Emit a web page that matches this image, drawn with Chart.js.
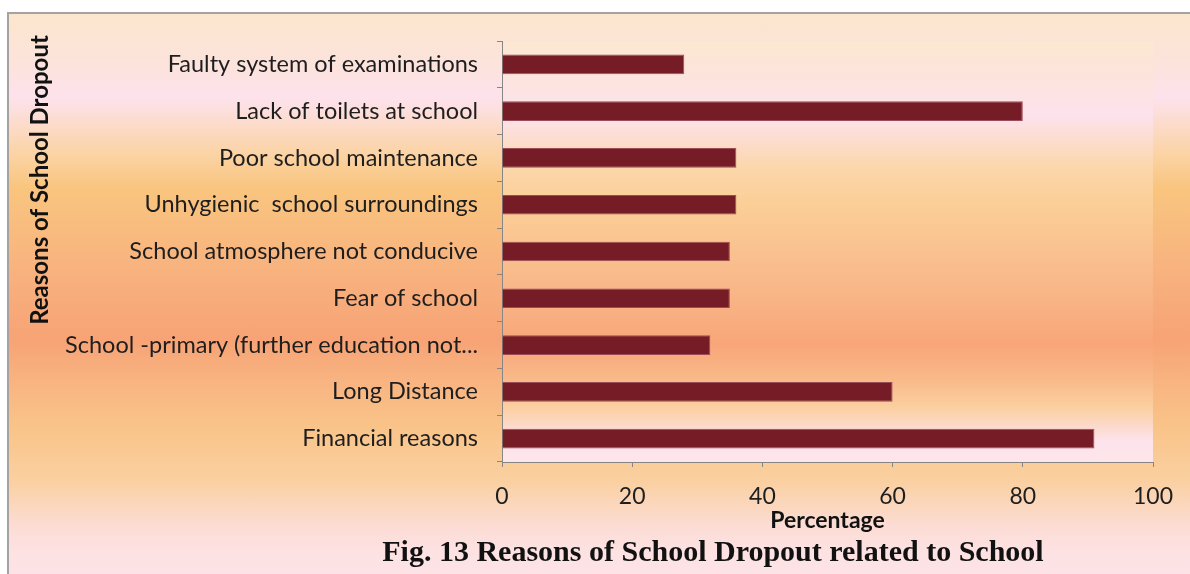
<!DOCTYPE html>
<html>
<head>
<meta charset="utf-8">
<script src="https://cdn.jsdelivr.net/npm/chart.js@4.4.1/dist/chart.umd.min.js"></script>
<style>
  html, body { margin: 0; padding: 0; background: #fff; }
  #frame {
    position: absolute; left: 7px; top: 12px; width: 1183px; height: 562px;
    border-left: 2px solid #a3a3a3; border-top: 2px solid #a3a3a3;
    background: linear-gradient(to bottom,
      #fbe6cd 0%, #fce3dc 9%, #fde2ec 15%, #fbd3a4 25%, #f9c57e 31%,
      #f8b37f 45%, #f7a375 58%, #f8b582 66%, #f9c388 73%, #fad0a0 83%,
      #fcdcd4 91%, #fde2e4 96%, #fde3e6 100%);
  }
  #chart { position: absolute; left: 0; top: 0; }
</style>
</head>
<body>
<div id="frame"></div>
<canvas id="chart" width="1190" height="574"></canvas>
<script>
// reasons, top to bottom
const reasons = [
  'Faulty system of examinations',
  'Lack of toilets at school',
  'Poor school maintenance',
  'Unhygienic  school surroundings',
  'School atmosphere not conducive',
  'Fear of school',
  'School -primary (further education not...',
  'Long Distance',
  'Financial reasons'
];
const percentages = [28, 80, 36, 36, 35, 35, 32, 60, 91];
const percentRange = [0, 100];
const percentStep = 20;

const yTitle = 'Reasons of School Dropout';
const xTitle = 'Percentage';
const caption = 'Fig. 13 Reasons of School Dropout related to School';

const AXIS_GREY = '#868686';
const TEXT = '#1e1e1e';

// plot area gets its own vertical wash
const plotBackground = {
  id: 'plotBackground',
  beforeDraw(chart) {
    const { ctx, chartArea: a } = chart;
    const g = ctx.createLinearGradient(0, a.top, 0, a.bottom);
    g.addColorStop(0, '#fce8d2');
    g.addColorStop(0.05, '#fce5d8');
    g.addColorStop(0.18, '#fde2ec');
    g.addColorStop(0.30, '#fbd7ab');
    g.addColorStop(0.38, '#fbcf98');
    g.addColorStop(0.57, '#f9b98a');
    g.addColorStop(0.72, '#f8a679');
    g.addColorStop(0.80, '#f9b888');
    g.addColorStop(0.87, '#fbcfa0');
    g.addColorStop(0.95, '#fde3ec');
    g.addColorStop(1, '#fde6ea');
    ctx.save();
    ctx.fillStyle = g;
    ctx.fillRect(a.left, a.top, a.right - a.left, a.bottom - a.top);
    ctx.restore();
  }
};

// rotated side title and the figure caption
const extraText = {
  id: 'extraText',
  afterDraw(chart) {
    const { ctx } = chart;
    ctx.save();
    ctx.fillStyle = '#111';
    ctx.textAlign = 'center';
    ctx.textBaseline = 'middle';
    ctx.translate(40, 180);
    ctx.rotate(-Math.PI / 2);
    ctx.font = 'bold 24px Lato';
    ctx.fillText(yTitle, 0, 0);
    ctx.restore();

    ctx.save();
    ctx.fillStyle = '#111';
    ctx.textAlign = 'center';
    ctx.textBaseline = 'alphabetic';
    ctx.font = 'bold 30px "Liberation Serif"';
    ctx.fillText(caption, 713, 561);
    ctx.restore();
  }
};

const ctx = document.getElementById('chart').getContext('2d');
new Chart(ctx, {
  type: 'bar',
  data: {
    labels: reasons,
    datasets: [{
      data: percentages,
      backgroundColor: '#761c27',
      borderColor: '#9c4c57',
      borderWidth: 1,
      barPercentage: 0.42,
      categoryPercentage: 1
    }]
  },
  plugins: [plotBackground, extraText],
  options: {
    indexAxis: 'y',
    responsive: false,
    animation: false,
    layout: { padding: { top: 41, right: 37, left: 0, bottom: 0 } },
    plugins: {
      legend: { display: false },
      tooltip: { enabled: false }
    },
    scales: {
      x: {
        min: percentRange[0],
        max: percentRange[1],
        ticks: { stepSize: percentStep, color: TEXT, font: { family: 'Lato', size: 23 }, padding: 16 },
        grid: { drawOnChartArea: false, tickLength: 5, color: AXIS_GREY },
        border: { color: AXIS_GREY },
        title: {
          display: true,
          text: xTitle,
          color: '#111',
          font: { family: 'Lato', size: 23, weight: 'bold' },
          align: 'center',
          padding: { top: 0, bottom: 40 }
        },
        afterFit: s => { s.height = 112; }
      },
      y: {
        ticks: { color: TEXT, font: { family: 'Lato', size: 23.5 }, padding: 19, autoSkip: false },
        grid: { drawOnChartArea: false, tickLength: 5, color: AXIS_GREY, offset: true },
        border: { color: AXIS_GREY },
        afterFit: s => { s.width = 502; }
      }
    }
  }
});
</script>
</body>
</html>
